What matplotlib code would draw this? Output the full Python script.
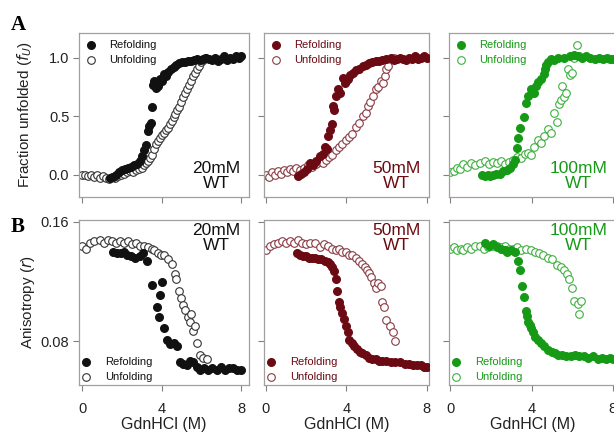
import matplotlib
matplotlib.use('Agg')
import matplotlib.pyplot as plt

plt.rcParams['font.family'] = ['Liberation Sans', 'DejaVu Sans']

# Concentraciones y colores de cada columna
conc_labels = ['20mM\nWT', '50mM\nWT', '100mM\nWT']
colors = ['#111111', '#6b0a12', '#169a16']
open_colors = ['#333333', '#8a3a44', '#3fae3f']

# ---- Panel A: fraccion desplegada ----
a1_ref_x = [1.4, 1.55, 1.7, 1.85, 2.0, 2.15, 2.3, 2.45, 2.6, 2.75, 2.9, 3.0, 3.1, 3.2, 3.3, 3.35, 3.45, 3.5,
            3.55, 3.6, 3.7, 3.8, 3.9, 4.0, 4.1, 4.2, 4.3, 4.45, 4.6, 4.75, 4.9, 5.05, 5.2, 5.35, 5.5, 5.65,
            5.8, 5.95, 6.1, 6.25, 6.4, 6.55, 6.7, 6.85, 7.0, 7.15, 7.3, 7.45, 7.6, 7.75, 7.9, 8.0]
a1_ref_y = [-0.03, -0.02, 0.0, 0.02, 0.04, 0.05, 0.06, 0.07, 0.08, 0.09, 0.12, 0.16, 0.21, 0.25, 0.37, 0.42,
            0.44, 0.58, 0.77, 0.8, 0.74, 0.76, 0.82, 0.8, 0.86, 0.84, 0.88, 0.9, 0.92, 0.94, 0.95, 0.96, 0.96,
            0.97, 0.97, 0.98, 0.99, 0.98, 0.99, 1.0, 0.99, 0.98, 1.0, 0.97, 0.99, 1.01, 0.98, 1.0, 0.99, 1.01,
            1.0, 1.01]
a1_unf_x = [0.0, 0.15, 0.3, 0.45, 0.6, 0.75, 0.9, 1.05, 1.2, 1.35, 1.5, 1.65, 1.8, 1.95, 2.1, 2.25, 2.4, 2.55,
            2.7, 2.85, 3.0, 3.1, 3.2, 3.3, 3.4, 3.5, 3.6, 3.7, 3.8, 3.9, 4.0, 4.1, 4.2, 4.3, 4.4, 4.5, 4.6,
            4.7, 4.8, 4.9, 5.0, 5.1, 5.2, 5.3, 5.4, 5.5, 5.6, 5.7, 5.8, 5.9, 6.0, 6.1, 6.2]
a1_unf_y = [0.0, 0.0, -0.01, 0.0, -0.02, 0.0, -0.03, -0.01, -0.03, -0.04, -0.02, -0.03, -0.01, 0.0, 0.01,
            0.02, 0.03, 0.02, 0.04, 0.05, 0.06, 0.08, 0.1, 0.12, 0.14, 0.17, 0.22, 0.26, 0.29, 0.31, 0.34,
            0.36, 0.38, 0.4, 0.43, 0.46, 0.49, 0.52, 0.55, 0.58, 0.62, 0.66, 0.7, 0.73, 0.77, 0.8, 0.84, 0.87,
            0.9, 0.93, 0.96, 0.98, 1.0]

a2_ref_x = [1.6, 1.75, 1.9, 2.05, 2.2, 2.35, 2.5, 2.7, 2.85, 2.95, 3.05, 3.1, 3.2, 3.3, 3.35, 3.4, 3.5, 3.6,
            3.7, 3.85, 3.95, 4.0, 4.1, 4.2, 4.35, 4.5, 4.65, 4.85, 5.0, 5.15, 5.3, 5.5, 5.65, 5.8, 6.0, 6.2,
            6.35, 6.5, 6.65, 6.8, 6.95, 7.1, 7.25, 7.4, 7.55, 7.7, 7.85, 8.0]
a2_ref_y = [-0.01, 0.01, 0.02, 0.05, 0.1, 0.08, 0.12, 0.16, 0.18, 0.24, 0.22, 0.33, 0.38, 0.43, 0.59, 0.55,
            0.67, 0.73, 0.7, 0.83, 0.78, 0.8, 0.82, 0.85, 0.87, 0.89, 0.9, 0.93, 0.94, 0.95, 0.96, 0.97, 0.97,
            0.98, 0.99, 1.0, 0.98, 0.99, 1.0, 0.99, 0.98, 1.0, 0.99, 1.01, 0.99, 1.0, 1.01, 1.0]
a2_unf_x = [0.0, 0.15, 0.3, 0.45, 0.6, 0.75, 0.9, 1.05, 1.2, 1.35, 1.5, 1.7, 1.9, 2.1, 2.3, 2.5, 2.7, 2.85,
            3.0, 3.15, 3.3, 3.5, 3.65, 3.8, 4.0, 4.15, 4.3, 4.5, 4.65, 4.85, 5.0, 5.1, 5.2, 5.35, 5.5, 5.6,
            5.75, 5.85, 5.95, 6.0, 6.1, 6.35]
a2_unf_y = [0.0, -0.02, 0.02, 0.0, 0.03, 0.01, 0.04, 0.02, 0.05, 0.03, 0.06, 0.04, 0.06, 0.08, 0.07, 0.09,
            0.11, 0.1, 0.13, 0.15, 0.17, 0.21, 0.24, 0.26, 0.3, 0.32, 0.35, 0.41, 0.44, 0.5, 0.53, 0.59, 0.62,
            0.67, 0.73, 0.75, 0.8, 0.78, 0.84, 0.9, 0.93, 1.0]

a3_ref_x = [1.55, 1.7, 1.85, 1.95, 2.1, 2.25, 2.45, 2.6, 2.8, 2.95, 3.1, 3.2, 3.3, 3.35, 3.45, 3.6, 3.7,
            3.8, 3.95, 4.1, 4.2, 4.3, 4.45, 4.6, 4.65, 4.7, 4.8, 4.95, 5.1, 5.3, 5.6, 5.9, 6.1, 6.3, 6.5, 6.7,
            6.9, 7.1, 7.3, 7.5, 7.7, 7.85, 8.0]
a3_ref_y = [0.0, -0.01, 0.0, -0.01, 0.0, 0.01, 0.01, 0.03, 0.04, 0.06, 0.09, 0.13, 0.23, 0.31, 0.4, 0.49,
            0.61, 0.67, 0.73, 0.7, 0.76, 0.79, 0.82, 0.86, 0.9, 0.94, 0.96, 0.99, 0.98, 1.0, 1.0, 1.01, 1.02,
            1.01, 1.0, 1.01, 1.0, 0.99, 1.0, 0.99, 1.0, 0.99, 0.99]
a3_unf_x = [0.0, 0.15, 0.3, 0.45, 0.63, 0.8, 1.0, 1.2, 1.45, 1.7, 1.9, 2.1, 2.3, 2.5, 2.7, 2.9, 3.1, 3.3,
            3.5, 3.65, 3.8, 3.95, 4.1, 4.3, 4.45, 4.6, 4.8, 4.95, 5.1, 5.25, 5.35, 5.45, 5.5, 5.6, 5.7, 5.8,
            5.9, 6.0, 6.1, 6.25, 6.35]
a3_unf_y = [0.02, 0.03, 0.06, 0.05, 0.09, 0.07, 0.1, 0.08, 0.1, 0.12, 0.09, 0.11, 0.1, 0.12, 0.09, 0.11,
            0.13, 0.15, 0.14, 0.18, 0.19, 0.17, 0.24, 0.3, 0.27, 0.33, 0.39, 0.36, 0.53, 0.45, 0.6, 0.64,
            0.76, 0.66, 0.7, 0.9, 0.85, 0.87, 1.0, 1.11, 1.01]

# ---- Panel B: anisotropia ----
b1_ref_x = [1.55, 1.75, 1.95, 2.1, 2.25, 2.45, 2.65, 2.9, 3.05, 3.25, 3.5, 3.75, 3.85, 3.9, 4.0, 4.1, 4.25,
            4.4, 4.6, 4.8, 4.95, 5.1, 5.3, 5.45, 5.6, 5.8, 5.95, 6.15, 6.35, 6.55, 6.8, 7.0, 7.2, 7.4, 7.6,
            7.8, 8.0]
b1_ref_y = [0.14, 0.139, 0.139, 0.14, 0.138, 0.137, 0.136, 0.137, 0.139, 0.134, 0.118, 0.103, 0.096, 0.111,
            0.12, 0.089, 0.081, 0.078, 0.079, 0.077, 0.066, 0.065, 0.064, 0.067, 0.066, 0.063, 0.061, 0.062,
            0.061, 0.062, 0.061, 0.063, 0.061, 0.062, 0.062, 0.061, 0.061]
b1_unf_x = [0.0, 0.2, 0.4, 0.6, 0.9, 1.1, 1.3, 1.5, 1.7, 1.9, 2.1, 2.3, 2.5, 2.7, 2.9, 3.1, 3.3, 3.5, 3.6,
            3.8, 3.95, 4.1, 4.3, 4.5, 4.65, 4.75, 4.9, 5.0, 5.1, 5.2, 5.35, 5.45, 5.5, 5.6, 5.7, 5.8, 5.95,
            6.1, 6.3]
b1_unf_y = [0.144, 0.142, 0.146, 0.147, 0.148, 0.146, 0.148, 0.147, 0.146, 0.147, 0.146, 0.147, 0.145,
            0.146, 0.144, 0.144, 0.143, 0.142, 0.141, 0.139, 0.138, 0.138, 0.135, 0.132, 0.125, 0.122, 0.114,
            0.109, 0.104, 0.101, 0.096, 0.093, 0.098, 0.087, 0.09, 0.079, 0.071, 0.069, 0.068]

b2_ref_x = [1.55, 1.7, 1.85, 2.0, 2.15, 2.3, 2.45, 2.6, 2.75, 2.95, 3.1, 3.2, 3.3, 3.4, 3.5, 3.55, 3.65,
            3.7, 3.8, 3.9, 4.0, 4.1, 4.15, 4.3, 4.4, 4.55, 4.7, 4.8, 5.0, 5.15, 5.3, 5.5, 5.65, 5.8, 6.0,
            6.2, 6.4, 6.65, 6.9, 7.1, 7.3, 7.5, 7.7, 7.85, 8.0]
b2_ref_y = [0.139, 0.138, 0.137, 0.137, 0.136, 0.136, 0.136, 0.135, 0.135, 0.134, 0.133, 0.132, 0.13, 0.127,
            0.122, 0.114, 0.106, 0.103, 0.099, 0.095, 0.09, 0.086, 0.081, 0.079, 0.077, 0.075, 0.073, 0.072,
            0.071, 0.069, 0.068, 0.068, 0.067, 0.067, 0.067, 0.066, 0.066, 0.066, 0.065, 0.065, 0.064,
            0.064, 0.064, 0.063, 0.063]
b2_unf_x = [0.0, 0.2, 0.4, 0.6, 0.8, 1.0, 1.2, 1.4, 1.6, 1.8, 2.0, 2.2, 2.45, 2.7, 2.9, 3.1, 3.3, 3.5, 3.65,
            3.8, 4.0, 4.15, 4.3, 4.5, 4.65, 4.8, 4.95, 5.05, 5.15, 5.25, 5.4, 5.5, 5.6, 5.75, 5.8, 5.9, 6.0,
            6.15, 6.3, 6.4]
b2_unf_y = [0.141, 0.144, 0.145, 0.146, 0.147, 0.146, 0.147, 0.146, 0.148, 0.146, 0.145, 0.146, 0.146,
            0.143, 0.145, 0.144, 0.142, 0.141, 0.142, 0.14, 0.14, 0.138, 0.138, 0.136, 0.134, 0.132, 0.13,
            0.128, 0.126, 0.123, 0.119, 0.116, 0.119, 0.117, 0.106, 0.103, 0.094, 0.09, 0.086, 0.08]

b3_ref_x = [1.7, 1.9, 2.1, 2.3, 2.5, 2.7, 2.8, 3.0, 3.2, 3.35, 3.45, 3.55, 3.6, 3.7, 3.75, 3.8, 3.9, 3.95,
            4.05, 4.15, 4.3, 4.45, 4.6, 4.8, 5.0, 5.15, 5.3, 5.5, 5.7, 5.95, 6.15, 6.35, 6.6, 6.8, 7.0, 7.25,
            7.45, 7.65, 7.85, 8.0]
b3_ref_y = [0.146, 0.144, 0.145, 0.143, 0.142, 0.141, 0.14, 0.141, 0.14, 0.134, 0.128, 0.117, 0.11, 0.1,
            0.097, 0.093, 0.091, 0.089, 0.086, 0.083, 0.081, 0.079, 0.077, 0.074, 0.073, 0.072, 0.071, 0.071,
            0.07, 0.07, 0.071, 0.07, 0.07, 0.069, 0.07, 0.068, 0.069, 0.068, 0.069, 0.068]
b3_unf_x = [0.0, 0.15, 0.3, 0.5, 0.63, 0.8, 1.0, 1.2, 1.45, 1.65, 1.85, 2.05, 2.3, 2.5, 2.7, 2.9, 3.1, 3.3,
            3.5, 3.7, 3.95, 4.15, 4.35, 4.55, 4.8, 5.0, 5.25, 5.45, 5.6, 5.75, 5.85, 6.0, 6.1, 6.3, 6.35,
            6.45]
b3_unf_y = [0.142, 0.143, 0.141, 0.142, 0.141, 0.143, 0.142, 0.144, 0.144, 0.142, 0.143, 0.144, 0.144,
            0.143, 0.144, 0.142, 0.142, 0.143, 0.141, 0.142, 0.141, 0.14, 0.139, 0.138, 0.136, 0.135, 0.131,
            0.13, 0.128, 0.125, 0.122, 0.116, 0.107, 0.105, 0.098, 0.107]

top_data = [(a1_ref_x, a1_ref_y, a1_unf_x, a1_unf_y),
            (a2_ref_x, a2_ref_y, a2_unf_x, a2_unf_y),
            (a3_ref_x, a3_ref_y, a3_unf_x, a3_unf_y)]
bot_data = [(b1_ref_x, b1_ref_y, b1_unf_x, b1_unf_y),
            (b2_ref_x, b2_ref_y, b2_unf_x, b2_unf_y),
            (b3_ref_x, b3_ref_y, b3_unf_x, b3_unf_y)]

fig = plt.figure(figsize=(6.14, 4.34), dpi=100)

lefts = [0.1287, 0.430, 0.731]
widths = [0.277, 0.269, 0.272]
xlims = [(-0.15, 8.4), (-0.08, 8.12), (-0.08, 8.15)]
spine_col = '#a0a0a0'


def style_axis(ax):
    for s in ax.spines.values():
        s.set_color(spine_col)
        s.set_linewidth(0.9)
    ax.tick_params(direction='out', length=4, width=0.8, color='#808080', labelsize=10.5,
                   colors='#222222', pad=3)
    ax.tick_params(axis='x', pad=8)


def add_legend(ax, loc, col, pad):
    ax.legend(loc=loc, frameon=False, fontsize=8, handletextpad=1.3,
              borderaxespad=pad, labelspacing=0.45, labelcolor=col, handlelength=0.8,
              borderpad=0.2)


for i in range(3):
    # Fila superior
    ax = fig.add_axes([lefts[i], 0.546, widths[i], 0.378])
    rx, ry, ux, uy = top_data[i]
    ax.scatter(rx, ry, s=30, color=colors[i], zorder=3, label='Refolding')
    ax.scatter(ux, uy, s=30, facecolors='white', edgecolors=open_colors[i], linewidths=0.8,
               zorder=2, label='Unfolding')
    ax.set_xlim(*xlims[i])
    ax.set_ylim(-0.19, 1.21)
    ax.set_xticks([0, 4, 8])
    ax.set_xticklabels([])
    ax.set_yticks([0.0, 0.5, 1.0])
    style_axis(ax)
    if i == 0:
        ax.set_yticklabels(['0.0', '0.5', '1.0'])
        ax.set_ylabel('Fraction unfolded ($f_U$)', fontsize=11, color='#222222', labelpad=11)
    else:
        ax.set_yticklabels([])
    add_legend(ax, 'upper left', colors[i], 0.45)
    ax.text(0.95, 0.035, conc_labels[i], transform=ax.transAxes, ha='right', va='bottom',
            multialignment='center', fontsize=12.5, color=colors[i], linespacing=1.05)

    # Fila inferior
    ax = fig.add_axes([lefts[i], 0.113, widths[i], 0.380])
    rx, ry, ux, uy = bot_data[i]
    ax.scatter(rx, ry, s=30, color=colors[i], zorder=3, label='Refolding')
    ax.scatter(ux, uy, s=30, facecolors='white', edgecolors=open_colors[i], linewidths=0.8,
               zorder=2, label='Unfolding')
    ax.set_xlim(*xlims[i])
    ax.set_ylim(0.051, 0.161)
    ax.set_xticks([0, 4, 8])
    ax.set_yticks([0.08, 0.16])
    style_axis(ax)
    ax.set_xlabel('GdnHCl (M)', fontsize=11.5, color='#222222', labelpad=1)
    if i == 0:
        ax.set_yticklabels(['0.08', '0.16'])
        ax.set_ylabel('Anisotropy ($r$)', fontsize=11, color='#222222', labelpad=3)
    else:
        ax.set_yticklabels([])
    add_legend(ax, 'lower left', colors[i], 0.05)
    ax.text(0.95, 0.985, conc_labels[i], transform=ax.transAxes, ha='right', va='top',
            multialignment='center', fontsize=12.5, color=colors[i], linespacing=1.05)

fig.text(0.018, 0.931, 'A', fontsize=15, fontweight='bold', family='Liberation Serif')
fig.text(0.018, 0.466, 'B', fontsize=15, fontweight='bold', family='Liberation Serif')

plt.savefig('out.png', dpi=100)
